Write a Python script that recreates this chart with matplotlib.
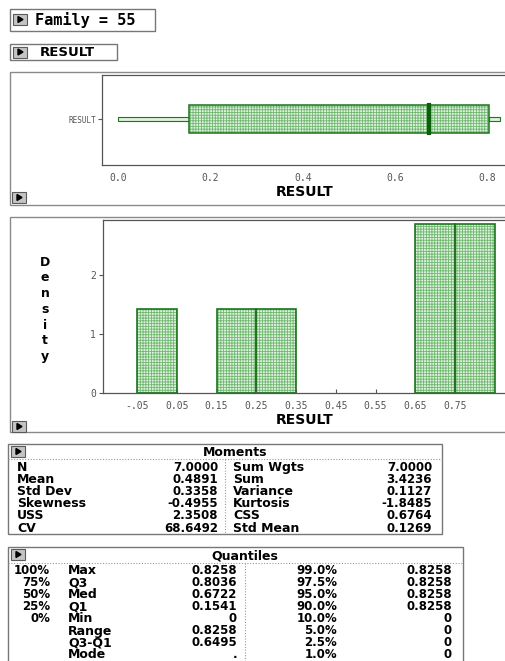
import numpy as np
import matplotlib
matplotlib.use("Agg")
import matplotlib.pyplot as plt
from matplotlib.patches import Rectangle, Polygon

# ── canvas (pixels) ───────────────────────────────────────────
W, H = 505, 661

# ── data ──────────────────────────────────────────────────────
FAMILY = 55
VAR = "RESULT"

BOX_MIN, BOX_Q1, BOX_MED, BOX_Q3, BOX_MAX = 0.0, 0.1541, 0.6722, 0.8036, 0.8258
BOX_TICKS = [0.0, 0.2, 0.4, 0.6, 0.8]

HIST_EDGES = [-0.05, 0.05, 0.15, 0.25, 0.35, 0.45, 0.55, 0.65, 0.75, 0.85]
HIST_DENS = [1.43, 0.0, 1.43, 1.43, 0.0, 0.0, 0.0, 2.86, 2.86]
HIST_XTICKS = [-0.05, 0.05, 0.15, 0.25, 0.35, 0.45, 0.55, 0.65, 0.75]
HIST_XLABELS = ["-.05", "0.05", "0.15", "0.25", "0.35", "0.45", "0.55", "0.65", "0.75"]
HIST_YTICKS = [0, 1, 2]

MOM_NAMES_L = ["N", "Mean", "Std Dev", "Skewness", "USS", "CV"]
MOM_VALS_L = ["7.0000", "0.4891", "0.3358", "-0.4955", "2.3508", "68.6492"]
MOM_NAMES_R = ["Sum Wgts", "Sum", "Variance", "Kurtosis", "CSS", "Std Mean"]
MOM_VALS_R = ["7.0000", "3.4236", "0.1127", "-1.8485", "0.6764", "0.1269"]

Q_PCT = ["100%", "75%", "50%", "25%", "0%", "", "", ""]
Q_NAMES = ["Max", "Q3", "Med", "Q1", "Min", "Range", "Q3-Q1", "Mode"]
Q_VALS = ["0.8258", "0.8036", "0.6722", "0.1541", "0", "0.8258", "0.6495", "."]
Q_PCT2 = ["99.0%", "97.5%", "95.0%", "90.0%", "10.0%", "5.0%", "2.5%", "1.0%"]
Q_VALS2 = ["0.8258", "0.8258", "0.8258", "0.8258", "0", "0", "0", "0"]

# ── styles ────────────────────────────────────────────────────
FILL = "#dcf2dc"
HATCH = "#72b872"
EDGE = "#1c741c"
MED = "#0b5e0b"
FRAME = "#8a8a8a"
TICKC = "#555555"
BOLD = dict(family="DejaVu Sans", fontweight="bold", color="black")
LABF = dict(fontsize=9, **BOLD)
NUMF = dict(fontsize=8.5, **BOLD)
TICKF = dict(family="DejaVu Sans Mono", fontsize=7, color=TICKC)

plt.rcParams["hatch.linewidth"] = 0.6
plt.rcParams["hatch.color"] = HATCH

fig = plt.figure(figsize=(W / 100, H / 100), dpi=100)
fig.patch.set_facecolor("white")

bg = fig.add_axes([0, 0, 1, 1])
bg.set_xlim(0, W)
bg.set_ylim(H, 0)
bg.axis("off")


def px_axes(x0, y0, x1, y1):
    return fig.add_axes([x0 / W, 1 - y1 / H, (x1 - x0) / W, (y1 - y0) / H])


def frame(x0, y0, x1, y1, color=FRAME, lw=1.0):
    bg.add_patch(Rectangle((x0, y0), x1 - x0, y1 - y0, fill=False,
                           edgecolor=color, lw=lw))


def button(x, y, w=14, h=11):
    bg.add_patch(Rectangle((x, y), w, h, facecolor="#c4c4c4",
                           edgecolor="#5a5a5a", lw=0.8))
    bg.add_patch(Polygon([(x + 5, y + 2.5), (x + 5, y + h - 2.5),
                          (x + 10, y + h / 2)], closed=True, color="black"))


# ── header boxes ──────────────────────────────────────────────
frame(10, 9, 155, 31, color="#777777")
button(13, 14)
bg.text(35, 20.5, f"Family = {FAMILY}", fontsize=11, va="center",
        ha="left", **dict(BOLD, family="DejaVu Sans Mono"))

frame(10, 44, 117, 60, color="#777777")
button(13, 46.5)
bg.text(40, 52.5, VAR, fontsize=9.5, va="center", ha="left", **BOLD)

# ── box plot panel ────────────────────────────────────────────
frame(10, 72, 510, 205)
button(12, 192)
bg.text(305, 192, VAR, fontsize=10, ha="center", va="center", **BOLD)

axb = px_axes(102, 75, 507, 165)
axb.set_xlim((102 - 118) / 462, (507 - 118) / 462)
axb.set_ylim(0, 1)
yc, bh, wh = 0.51, 0.31, 0.045
axb.add_patch(Rectangle((BOX_MIN, yc - wh / 2), BOX_Q1 - BOX_MIN, wh,
                        facecolor=FILL, edgecolor=EDGE, lw=0.8))
axb.add_patch(Rectangle((BOX_Q3, yc - wh / 2), BOX_MAX - BOX_Q3, wh,
                        facecolor=FILL, edgecolor=EDGE, lw=0.8))
axb.add_patch(Rectangle((BOX_Q1, yc - bh / 2), BOX_Q3 - BOX_Q1, bh,
                        facecolor=FILL, edgecolor=HATCH, hatch="++++++", lw=0))
axb.add_patch(Rectangle((BOX_Q1, yc - bh / 2), BOX_Q3 - BOX_Q1, bh,
                        fill=False, edgecolor=EDGE, lw=1.1))
axb.plot([BOX_MED, BOX_MED], [yc - bh / 2, yc + bh / 2], color=MED, lw=3)
axb.set_xticks(BOX_TICKS)
axb.set_xticklabels([f"{t:.1f}" for t in BOX_TICKS], **TICKF)
axb.set_yticks([yc])
axb.set_yticklabels([VAR], family="DejaVu Sans Mono", fontsize=5.5, color=TICKC)
axb.tick_params(axis="x", length=0, pad=6)
axb.tick_params(axis="y", length=3, pad=1, color=TICKC)
for s in axb.spines.values():
    s.set_color("#555555")
    s.set_linewidth(0.9)

# ── histogram panel ───────────────────────────────────────────
frame(10, 217, 510, 432)
button(12, 421)
bg.text(305, 420, VAR, fontsize=10, ha="center", va="center", **BOLD)
for i, ch in enumerate("Density"):
    bg.text(45, 262 + i * 15.8, ch, fontsize=9, ha="center", va="center", **BOLD)

axh = px_axes(103, 220, 507, 393)
x0 = -0.05 - 34 / 397.5
axh.set_xlim(x0, x0 + 404 / 397.5)
axh.set_ylim(0, 173 / 59)
lefts = np.array(HIST_EDGES[:-1])
widths = np.diff(HIST_EDGES)
dens = np.array(HIST_DENS)
keep = dens > 0
axh.bar(lefts[keep], dens[keep], width=widths[keep], align="edge",
        color=FILL, edgecolor=HATCH, hatch="++++++", lw=0)
axh.bar(lefts[keep], dens[keep], width=widths[keep], align="edge",
        fill=False, edgecolor=EDGE, lw=1.2)
axh.set_xticks(HIST_XTICKS)
axh.set_xticklabels(HIST_XLABELS, **TICKF)
axh.set_yticks(HIST_YTICKS)
axh.set_yticklabels([str(t) for t in HIST_YTICKS], **TICKF)
axh.tick_params(axis="x", length=3, direction="in", pad=6, color=TICKC)
axh.tick_params(axis="y", length=3, pad=2, color=TICKC)
for s in axh.spines.values():
    s.set_color("#555555")
    s.set_linewidth(0.9)

# ── Moments table ─────────────────────────────────────────────
frame(8, 444, 442, 534, color="#777777")
button(11, 446)
bg.text(235, 452, "Moments", ha="center", va="center", **LABF)
bg.plot([8, 442], [459, 459], color="#999999", lw=0.8, ls=(0, (1, 1.5)))
bg.plot([225, 225], [459, 534], color="#999999", lw=0.8, ls=(0, (1, 1.5)))
for i in range(len(MOM_NAMES_L)):
    y = 467.5 + i * 12.1
    bg.text(17, y, MOM_NAMES_L[i], ha="left", va="center", **LABF)
    bg.text(218, y, MOM_VALS_L[i], ha="right", va="center", **NUMF)
    bg.text(233, y, MOM_NAMES_R[i], ha="left", va="center", **LABF)
    bg.text(432, y, MOM_VALS_R[i], ha="right", va="center", **NUMF)

# ── Quantiles table ───────────────────────────────────────────
frame(8, 547, 463, 670, color="#777777")
button(11, 549)
bg.text(245, 556, "Quantiles", ha="center", va="center", **LABF)
bg.plot([8, 463], [563, 563], color="#999999", lw=0.8, ls=(0, (1, 1.5)))
bg.plot([245, 245], [563, 661], color="#999999", lw=0.8, ls=(0, (1, 1.5)))
for i in range(len(Q_NAMES)):
    y = 571 + i * 12.0
    bg.text(50, y, Q_PCT[i], ha="right", va="center", **NUMF)
    bg.text(68, y, Q_NAMES[i], ha="left", va="center", **LABF)
    bg.text(237, y, Q_VALS[i], ha="right", va="center", **NUMF)
    bg.text(337, y, Q_PCT2[i], ha="right", va="center", **NUMF)
    bg.text(452, y, Q_VALS2[i], ha="right", va="center", **NUMF)

fig.savefig("out.png", dpi=100)
